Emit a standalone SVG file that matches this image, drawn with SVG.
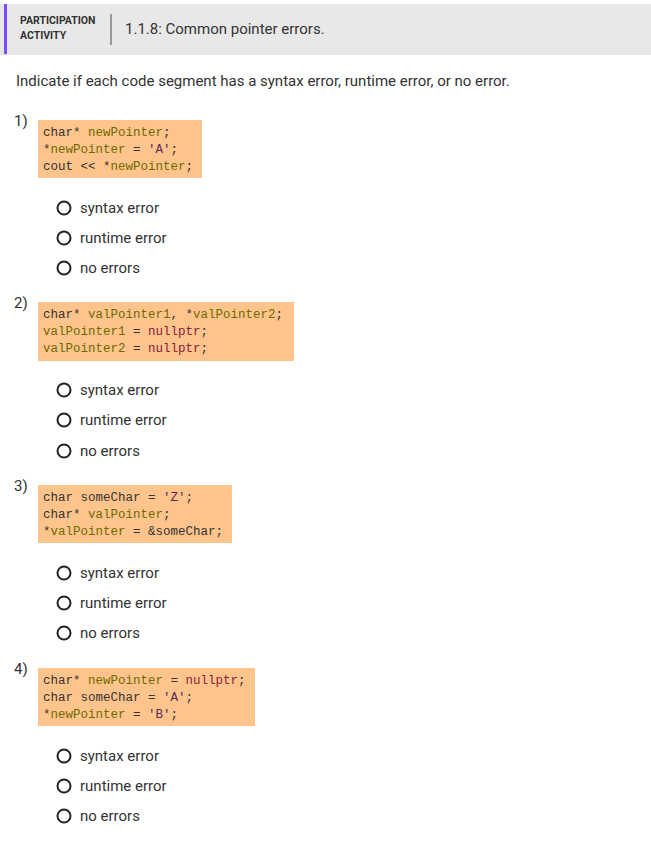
<svg xmlns="http://www.w3.org/2000/svg" width="651" height="847" viewBox="0 0 651 847">
<style>
.t{font-family:Roboto,"Liberation Sans",sans-serif;fill:#333}
.c{font-family:"Liberation Mono",monospace;font-size:12.5px;fill:#333}
.v{fill:#6e6a00}.n{fill:#8b1c3e}.s{fill:#5a2a5a}
.r{fill:#fff;stroke:#222;stroke-width:2}
.box{fill:#ffc48c}
</style>
<rect width="651" height="847" fill="#fff"/>
<g id="header">
<rect x="0" y="4" width="651" height="51" fill="#e8e8e8"/>
<rect x="4" y="4" width="3" height="50" fill="#7c4dff"/>
<text x="20" y="24" class="t" font-size="10.5" font-weight="bold" fill="#222">PARTICIPATION</text>
<text x="20" y="39" class="t" font-size="10.5" font-weight="bold" fill="#222">ACTIVITY</text>
<rect x="110" y="14" width="2" height="31" fill="#999"/>
<text x="125" y="34" class="t" font-size="15">1.1.8: Common pointer errors.</text>
</g>
<text x="16" y="86" class="t" font-size="15">Indicate if each code segment has a syntax error, runtime error, or no error.</text>
<g id="q1">
<text x="14" y="126" class="t" font-size="15">1)</text>
<rect x="38" y="120" width="164" height="58" class="box"/>
<text class="c" x="43" y="136">char* <tspan class="v">newPointer</tspan>;</text>
<text class="c" x="43" y="153">*<tspan class="v">newPointer</tspan> = <tspan class="s">'A'</tspan>;</text>
<text class="c" x="43" y="170">cout &lt;&lt; *<tspan class="v">newPointer</tspan>;</text>
<circle cx="64" cy="208" r="6.5" class="r"/><text x="80" y="213" class="t" font-size="15">syntax error</text>
<circle cx="64" cy="238" r="6.5" class="r"/><text x="80" y="243" class="t" font-size="15">runtime error</text>
<circle cx="64" cy="268" r="6.5" class="r"/><text x="80" y="273" class="t" font-size="15">no errors</text>
</g>
<g id="q2">
<text x="14" y="308" class="t" font-size="15">2)</text>
<rect x="38" y="302" width="256" height="59" class="box"/>
<text class="c" x="43" y="318">char* <tspan class="v">valPointer1</tspan>, *<tspan class="v">valPointer2</tspan>;</text>
<text class="c" x="43" y="335"><tspan class="v">valPointer1</tspan> = <tspan class="n">nullptr</tspan>;</text>
<text class="c" x="43" y="352"><tspan class="v">valPointer2</tspan> = <tspan class="n">nullptr</tspan>;</text>
<circle cx="64" cy="390" r="6.5" class="r"/><text x="80" y="395" class="t" font-size="15">syntax error</text>
<circle cx="64" cy="420" r="6.5" class="r"/><text x="80" y="425" class="t" font-size="15">runtime error</text>
<circle cx="64" cy="451" r="6.5" class="r"/><text x="80" y="456" class="t" font-size="15">no errors</text>
</g>
<g id="q3">
<text x="14" y="491" class="t" font-size="15">3)</text>
<rect x="38" y="485" width="194" height="58" class="box"/>
<text class="c" x="43" y="501">char someChar = <tspan class="s">'Z'</tspan>;</text>
<text class="c" x="43" y="518">char* <tspan class="v">valPointer</tspan>;</text>
<text class="c" x="43" y="535">*<tspan class="v">valPointer</tspan> = &amp;someChar;</text>
<circle cx="64" cy="573" r="6.5" class="r"/><text x="80" y="578" class="t" font-size="15">syntax error</text>
<circle cx="64" cy="603" r="6.5" class="r"/><text x="80" y="608" class="t" font-size="15">runtime error</text>
<circle cx="64" cy="633" r="6.5" class="r"/><text x="80" y="638" class="t" font-size="15">no errors</text>
</g>
<g id="q4">
<text x="14" y="674" class="t" font-size="15">4)</text>
<rect x="38" y="668" width="217" height="58" class="box"/>
<text class="c" x="43" y="684">char* <tspan class="v">newPointer</tspan> = <tspan class="n">nullptr</tspan>;</text>
<text class="c" x="43" y="701">char someChar = <tspan class="s">'A'</tspan>;</text>
<text class="c" x="43" y="718">*<tspan class="v">newPointer</tspan> = <tspan class="s">'B'</tspan>;</text>
<circle cx="64" cy="756" r="6.5" class="r"/><text x="80" y="761" class="t" font-size="15">syntax error</text>
<circle cx="64" cy="786" r="6.5" class="r"/><text x="80" y="791" class="t" font-size="15">runtime error</text>
<circle cx="64" cy="816" r="6.5" class="r"/><text x="80" y="821" class="t" font-size="15">no errors</text>
</g>
<g id="connectors"/>
</svg>
